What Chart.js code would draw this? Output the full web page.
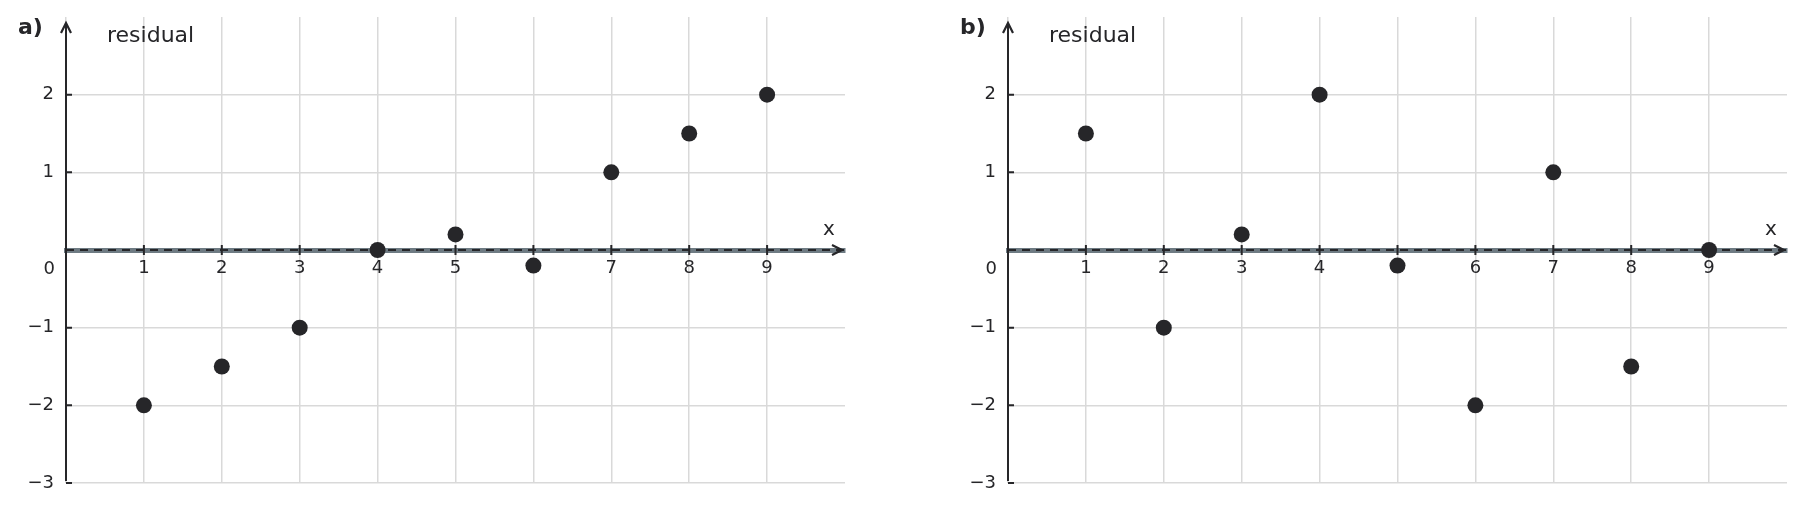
<!DOCTYPE html>
<html>
<head>
<meta charset="utf-8">
<script src="https://cdn.jsdelivr.net/npm/chart.js@4.4.1/dist/chart.umd.min.js"></script>
<style>
  html, body { margin: 0; padding: 0; background: #fff; }
  #wrap { position: relative; width: 1803px; height: 512px; overflow: hidden; }
  .panel { position: absolute; top: 0; width: 861px; height: 512px; }
</style>
</head>
<body>
<div id="wrap">
  <div class="panel" style="left:0"><canvas id="chartA"></canvas></div>
  <div class="panel" style="left:942px"><canvas id="chartB"></canvas></div>
</div>
<script>
// data
const xValues = [1, 2, 3, 4, 5, 6, 7, 8, 9];
const residualsA = [-2, -1.5, -1, 0, 0.2, -0.2, 1, 1.5, 2];
const residualsB = [1.5, -1, 0.2, 2, -0.2, -2, 1, -1.5, 0];
const zeroLineX = [0, 10];
const yLabelled = [2, 1, -1, -2, -3];
const panelLabels = ['a)', 'b)'];
const axisTitleY = 'residual';
const axisTitleX = 'x';

const INK = '#262629';
const GRID = '#d9d9d9';
const AXIS_GRAY = '#6e7b83';
const FONT = "'DejaVu Sans', sans-serif";

Chart.defaults.font.family = FONT;
Chart.defaults.color = INK;

function fmt(v) {
  return v < 0 ? '\u2212' + Math.abs(v) : String(v);
}

function noPad(s) {
  s.paddingTop = 0;
  s.paddingBottom = 0;
  s.paddingLeft = 0;
  s.paddingRight = 0;
}

const axisDecor = {
  id: 'axisDecor',
  beforeDatasetsDraw(chart, args, opts) {
    const { ctx, scales: { x, y } } = chart;
    const y0 = y.getPixelForValue(0);
    ctx.save();
    ctx.strokeStyle = INK;
    ctx.lineWidth = 2;
    ctx.beginPath();
    // y axis line
    ctx.moveTo(x.left, y.top + 6);
    ctx.lineTo(x.left, y.bottom - 2);
    // x ticks
    xValues.forEach(v => {
      const px = x.getPixelForValue(v);
      ctx.moveTo(px, y0 - 5);
      ctx.lineTo(px, y0 + 5);
    });
    // y ticks
    yLabelled.forEach(v => {
      const py = y.getPixelForValue(v);
      ctx.moveTo(x.left, py);
      ctx.lineTo(x.left + 6, py);
    });
    ctx.stroke();
    ctx.restore();
  },
  afterDraw(chart, args, opts) {
    const { ctx, scales: { x, y } } = chart;
    const y0 = y.getPixelForValue(0);
    ctx.save();
    ctx.strokeStyle = INK;
    ctx.lineWidth = 2.2;
    ctx.lineJoin = 'miter';
    // arrow heads
    ctx.beginPath();
    ctx.moveTo(x.left - 5, y.top + 16);
    ctx.lineTo(x.left, y.top + 6);
    ctx.lineTo(x.left + 5, y.top + 16);
    ctx.moveTo(x.right - 13, y0 - 5);
    ctx.lineTo(x.right - 3, y0);
    ctx.lineTo(x.right - 13, y0 + 5);
    ctx.stroke();

    ctx.fillStyle = INK;
    ctx.textBaseline = 'middle';
    // zero label, set below the axis
    ctx.font = '18px ' + FONT;
    ctx.textAlign = 'right';
    ctx.fillText('0', x.left - 11, y0 + 19);
    // axis names
    ctx.font = '20px ' + FONT;
    ctx.textAlign = 'center';
    ctx.fillText(axisTitleX, x.right - 16, y0 - 20);
    ctx.font = '22px ' + FONT;
    ctx.textAlign = 'left';
    ctx.fillText(axisTitleY, x.left + 41, y.top + 19);
    // panel letter
    ctx.font = 'bold 22px ' + FONT;
    ctx.fillText(opts.letter, x.left - 48, y.top + 11);
    ctx.restore();
  }
};

function makeChart(id, residuals, letter) {
  return new Chart(document.getElementById(id), {
    type: 'scatter',
    data: {
      datasets: [
        {
          data: xValues.map((v, i) => ({ x: v, y: residuals[i] })),
          backgroundColor: INK,
          borderColor: INK,
          pointRadius: 8,
          pointBorderWidth: 0,
          order: 0
        },
        {
          data: zeroLineX.map(v => ({ x: v, y: 0 })),
          showLine: true,
          borderColor: INK,
          borderWidth: 2,
          borderDash: [8, 6],
          pointRadius: 0,
          order: 1
        }
      ]
    },
    options: {
      responsive: true,
      maintainAspectRatio: false,
      animation: false,
      events: [],
      layout: { padding: { top: 17, right: 16, bottom: 29, left: 0 } },
      plugins: {
        legend: { display: false },
        tooltip: { enabled: false },
        axisDecor: { letter: letter }
      },
      scales: {
        x: {
          type: 'linear',
          position: { y: 0 },
          min: 0,
          max: 10,
          afterFit: noPad,
          ticks: {
            stepSize: 1,
            padding: 8,
            color: INK,
            font: { size: 18 },
            callback: v => xValues.includes(v) ? String(v) : ''
          },
          grid: {
            drawTicks: false,
            lineWidth: 1.5,
            color: c => (c.tick && c.tick.value === 10) ? 'rgba(0,0,0,0)' : GRID
          },
          border: { display: true, color: AXIS_GRAY, width: 5 }
        },
        y: {
          type: 'linear',
          position: 'left',
          min: -3,
          max: 3,
          afterFit: s => { s.width = 66; noPad(s); },
          ticks: {
            stepSize: 1,
            padding: 12,
            color: INK,
            font: { size: 18 },
            callback: v => yLabelled.includes(v) ? fmt(v) : ''
          },
          grid: {
            drawTicks: false,
            lineWidth: 1.5,
            color: c => (c.tick && (c.tick.value === 3 || c.tick.value === 0)) ? 'rgba(0,0,0,0)' : GRID
          },
          border: { display: false }
        }
      }
    },
    plugins: [axisDecor]
  });
}

makeChart('chartA', residualsA, panelLabels[0]);
makeChart('chartB', residualsB, panelLabels[1]);
</script>
</body>
</html>
